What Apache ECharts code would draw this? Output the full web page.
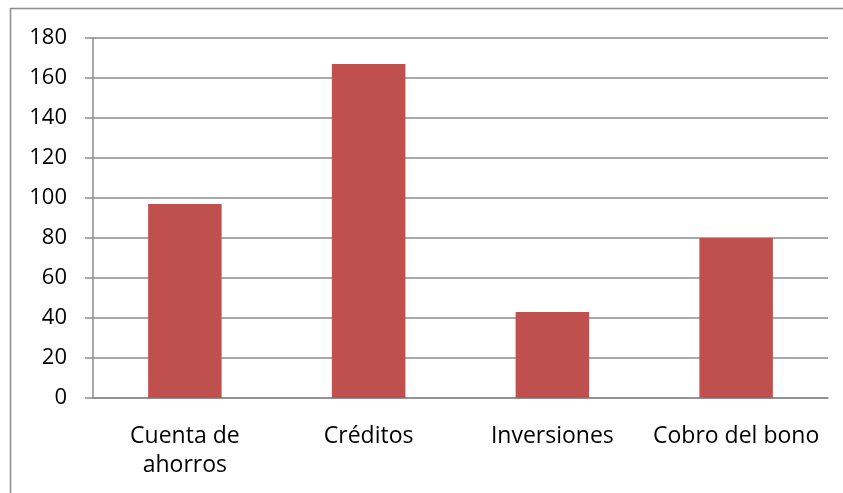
<!DOCTYPE html>
<html>
<head>
<meta charset="utf-8">
<script src="https://cdn.jsdelivr.net/npm/echarts@6/dist/echarts.min.js"></script>
<style>
  html, body { margin: 0; padding: 0; background: #fff; }
  #chart { width: 843px; height: 493px; }
</style>
</head>
<body>
<div id="chart"></div>
<script>
// Categories and values for the bar chart
const categories = ['Cuenta de\nahorros', 'Créditos', 'Inversiones', 'Cobro del bono'];
const values = [97, 167, 43, 80];
const yTicks = { min: 0, max: 180, interval: 20 };

const chart = echarts.init(document.getElementById('chart'), null, { renderer: 'canvas' });
const font = '"Open Sans", "Liberation Sans", sans-serif';

chart.setOption({
  animation: false,
  backgroundColor: '#ffffff',
  graphic: [{
    type: 'rect',
    shape: { x: 10.5, y: 8.5, width: 900, height: 600 },
    style: { fill: 'none', stroke: '#8c8c8c', lineWidth: 1.5 },
    silent: true,
    z: 0
  }],
  grid: { left: 93, right: 15, top: 38, bottom: 95 },
  xAxis: {
    type: 'category',
    data: categories,
    axisLine: { show: true, lineStyle: { color: '#8c8c8c', width: 1.5 } },
    axisTick: { show: false },
    axisLabel: {
      color: '#000',
      fontFamily: font,
      fontSize: 23,
      lineHeight: 29,
      margin: 24,
      interval: 0
    }
  },
  yAxis: {
    type: 'value',
    min: yTicks.min,
    max: yTicks.max,
    interval: yTicks.interval,
    axisLine: { show: true, lineStyle: { color: '#8c8c8c', width: 1.5 } },
    axisTick: { show: true, length: 8, lineStyle: { color: '#8c8c8c', width: 1.5 } },
    splitLine: { show: true, lineStyle: { color: '#8c8c8c', width: 1.5 } },
    axisLabel: {
      color: '#000',
      fontFamily: font,
      fontSize: 22,
      margin: 26
    }
  },
  series: [{
    type: 'bar',
    data: values,
    barWidth: '40%',
    itemStyle: { color: '#C0504D' }
  }]
});
</script>
</body>
</html>
